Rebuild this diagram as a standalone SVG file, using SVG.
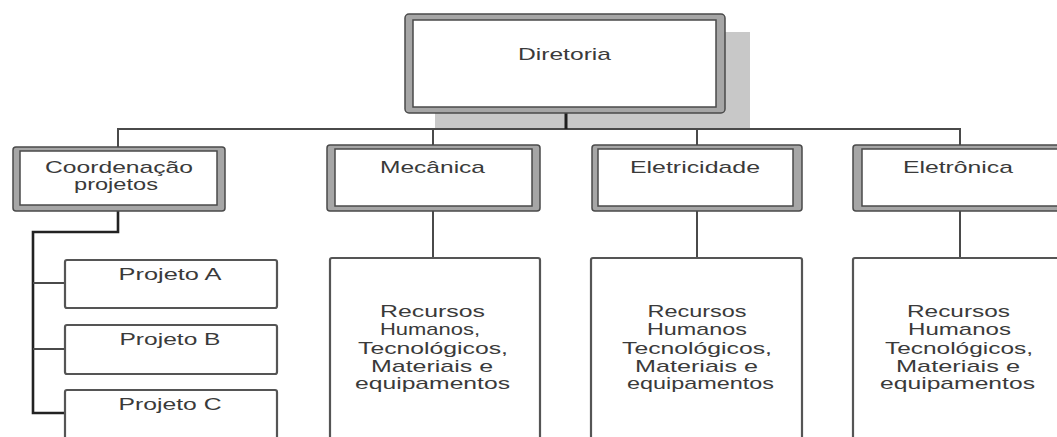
<svg xmlns="http://www.w3.org/2000/svg" width="1057" height="437" viewBox="0 0 1057 437">
<style>
.frame-out{fill:#a6a6a6;stroke:#4a4a4a;stroke-width:1.5}
.frame-in{fill:#ffffff;stroke:#4a4a4a;stroke-width:1.5}
.box{fill:#ffffff;stroke:#555555;stroke-width:2.2}
.t{font-family:"Liberation Sans",Arial,sans-serif;font-size:17px;fill:#3a3a3a;text-anchor:middle}
.ln{fill:none;stroke:#4a4a4a;stroke-width:2}
.lnk{fill:none;stroke:#222222;stroke-width:2.6}
</style>
<rect width="1057" height="437" fill="#ffffff"/>
<g id="connectors">
<polyline class="ln" points="118,147 118,129 960,129 960,145"/>
<line class="ln" x1="433" y1="129" x2="433" y2="145"/>
<line class="ln" x1="697" y1="129" x2="697" y2="145"/>
<line class="ln" x1="433" y1="211" x2="433" y2="258"/>
<line class="ln" x1="697" y1="211" x2="697" y2="258"/>
<line class="ln" x1="960" y1="211" x2="960" y2="258"/>
<polyline class="lnk" points="118,210 118,232 33,232 33,413 65,413"/>
<line class="ln" x1="33" y1="283" x2="65" y2="283"/>
<line class="ln" x1="33" y1="349" x2="65" y2="349"/>
</g>
<g id="diretoria">
<rect x="435" y="32" width="315" height="96" fill="#c8c8c8"/>
<line x1="566" y1="112" x2="566" y2="129" stroke="#1e1e1e" stroke-width="3"/>
<rect class="frame-out" x="405" y="14" width="320" height="99" rx="4"/>
<rect class="frame-in" x="413" y="20" width="303" height="87"/>
<text class="t" x="564.5" y="60" textLength="93" lengthAdjust="spacingAndGlyphs">Diretoria</text>
</g>
<g id="coordenacao">
<rect class="frame-out" x="13" y="147" width="212" height="64" rx="3"/>
<rect class="frame-in" x="20" y="151" width="197" height="54"/>
<text class="t" x="119" y="173" textLength="148" lengthAdjust="spacingAndGlyphs">Coordenação</text>
<text class="t" x="116" y="190" textLength="84" lengthAdjust="spacingAndGlyphs">projetos</text>
</g>
<g id="projeto-a">
<rect class="box" x="65" y="260" width="212" height="48" rx="2"/>
<text class="t" x="170" y="280" textLength="103" lengthAdjust="spacingAndGlyphs">Projeto A</text>
</g>
<g id="projeto-b">
<rect class="box" x="65" y="325" width="212" height="49" rx="2"/>
<text class="t" x="170" y="345" textLength="101" lengthAdjust="spacingAndGlyphs">Projeto B</text>
</g>
<g id="projeto-c">
<rect class="box" x="65" y="390" width="212" height="60" rx="2"/>
<text class="t" x="170" y="410" textLength="103" lengthAdjust="spacingAndGlyphs">Projeto C</text>
</g>
<g id="mecanica">
<rect class="frame-out" x="327" y="145" width="213" height="66" rx="3"/>
<rect class="frame-in" x="335" y="149" width="197" height="57"/>
<text class="t" x="432.5" y="173" textLength="105" lengthAdjust="spacingAndGlyphs">Mecânica</text>
</g>
<g id="eletricidade">
<rect class="frame-out" x="592" y="145" width="210" height="66" rx="3"/>
<rect class="frame-in" x="598" y="149" width="195" height="57"/>
<text class="t" x="695" y="173" textLength="130" lengthAdjust="spacingAndGlyphs">Eletricidade</text>
</g>
<g id="eletronica">
<rect class="frame-out" x="853" y="145" width="214" height="66" rx="3"/>
<rect class="frame-in" x="862" y="149" width="200" height="57"/>
<text class="t" x="958" y="173" textLength="110" lengthAdjust="spacingAndGlyphs">Eletrônica</text>
</g>
<g id="recursos-mecanica">
<rect class="box" x="330" y="258" width="210" height="200" rx="2"/>
<text class="t" x="432.5" y="317" textLength="105" lengthAdjust="spacingAndGlyphs">Recursos</text>
<text class="t" x="430" y="335" textLength="100" lengthAdjust="spacingAndGlyphs">Humanos,</text>
<text class="t" x="433" y="354" textLength="150" lengthAdjust="spacingAndGlyphs">Tecnológicos,</text>
<text class="t" x="432" y="372" textLength="122" lengthAdjust="spacingAndGlyphs">Materiais e</text>
<text class="t" x="432.5" y="389" textLength="155" lengthAdjust="spacingAndGlyphs">equipamentos</text>
</g>
<g id="recursos-eletricidade">
<rect class="box" x="591" y="258" width="211" height="200" rx="2"/>
<text class="t" x="697" y="317" textLength="99" lengthAdjust="spacingAndGlyphs">Recursos</text>
<text class="t" x="697" y="335" textLength="100" lengthAdjust="spacingAndGlyphs">Humanos</text>
<text class="t" x="697" y="354" textLength="150" lengthAdjust="spacingAndGlyphs">Tecnológicos,</text>
<text class="t" x="696.5" y="372" textLength="123" lengthAdjust="spacingAndGlyphs">Materiais e</text>
<text class="t" x="700.5" y="389" textLength="147" lengthAdjust="spacingAndGlyphs">equipamentos</text>
</g>
<g id="recursos-eletronica">
<rect class="box" x="853" y="258" width="214" height="200" rx="2"/>
<text class="t" x="958.5" y="317" textLength="103" lengthAdjust="spacingAndGlyphs">Recursos</text>
<text class="t" x="959.5" y="335" textLength="103" lengthAdjust="spacingAndGlyphs">Humanos</text>
<text class="t" x="959" y="354" textLength="148" lengthAdjust="spacingAndGlyphs">Tecnológicos,</text>
<text class="t" x="958" y="372" textLength="124" lengthAdjust="spacingAndGlyphs">Materiais e</text>
<text class="t" x="957.5" y="389" textLength="155" lengthAdjust="spacingAndGlyphs">equipamentos</text>
</g>
</svg>
